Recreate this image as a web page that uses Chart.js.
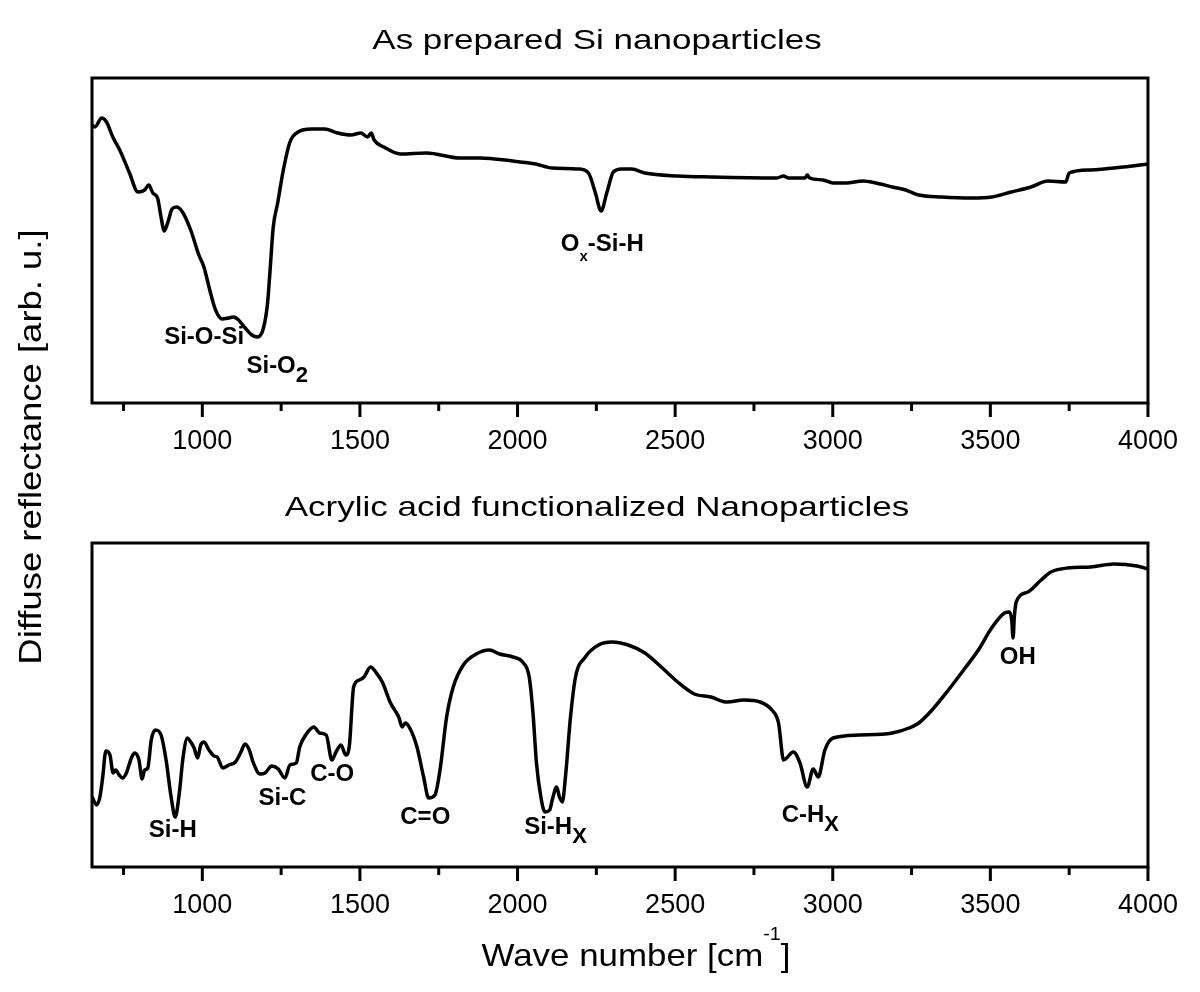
<!DOCTYPE html>
<html>
<head>
<meta charset="utf-8">
<script src="https://cdn.jsdelivr.net/npm/chart.js@4.4.1/dist/chart.umd.min.js"></script>
<style>
  body { margin: 0; background: #fff; }
  canvas { position: absolute; left: 0; top: 0; }
</style>
</head>
<body>
<canvas id="topPanel" width="1200" height="992"></canvas>
<canvas id="bottomPanel" width="1200" height="992"></canvas>
<script>
/*--------------------DATA--------------------*/
// wave numbers [cm-1] and reflectance (arb. u.)
const topWave = [650, 659, 681, 696, 716, 738, 769, 796, 817, 830, 843, 858, 869, 879, 890, 904, 918, 937, 963, 989,
    1005, 1026, 1042, 1063, 1084, 1099, 1115, 1136, 1157, 1175, 1194, 1207, 1215, 1225, 1239, 1257, 1278, 1304, 1346, 1388,
    1429, 1471, 1503, 1524, 1536, 1545, 1576, 1628, 1712, 1817, 1880, 1985, 2058, 2110, 2194, 2225, 2247, 2265, 2283, 2304,
    2330, 2362, 2404, 2508, 2613, 2822, 2844, 2859, 2912, 2919, 2927, 2969, 3001, 3043, 3095, 3137, 3189, 3231, 3273, 3346,
    3441, 3504, 3566, 3629, 3682, 3739, 3750, 3818, 3922, 4000];
const topSignal = [278, 276, 285, 281, 266, 253, 230, 211, 213, 218, 210, 205, 186, 172, 180, 194, 196, 191, 173, 148,
    136, 110, 93, 84, 85, 86, 83, 75, 68, 66, 75, 100, 133, 176, 200, 233, 261, 271, 274, 274,
    270, 268, 270, 266, 270, 263, 256, 249, 250, 245, 245, 242, 239, 235, 234, 230, 210, 192, 210, 231,
    234, 234, 230, 227, 226, 225, 227, 225, 225, 228, 225, 223, 220, 220, 222, 220, 216, 213, 208, 206,
    205, 206, 211, 216, 222, 221, 230, 233, 236, 239];

const bottomWave = [650, 665, 675, 684, 694, 707, 717, 725, 736, 747, 759, 775, 785, 799, 809, 817, 827, 838, 851, 869,
    885, 901, 914, 927, 939, 953, 963, 974, 985, 995, 1005, 1021, 1037, 1047, 1065, 1084, 1105, 1121, 1136, 1149,
    1162, 1183, 1199, 1220, 1241, 1262, 1278, 1298, 1309, 1330, 1354, 1372, 1393, 1411, 1424, 1440, 1455, 1466, 1480, 1498,
    1513, 1534, 1550, 1571, 1597, 1623, 1634, 1644, 1658, 1681, 1702, 1718, 1738, 1754, 1775, 1796, 1828, 1869, 1911, 1943,
    1985, 2016, 2037, 2049, 2060, 2074, 2087, 2102, 2110, 2124, 2133, 2142, 2152, 2168, 2184, 2215, 2257, 2299, 2351, 2404,
    2456, 2508, 2561, 2613, 2665, 2718, 2770, 2807, 2828, 2844, 2875, 2896, 2919, 2938, 2954, 2975, 3001, 3085, 3189, 3242,
    3273, 3315, 3367, 3420, 3462, 3504, 3545, 3561, 3568, 3572, 3576, 3582, 3619, 3661, 3692, 3745, 3818, 3891, 3965, 4000];
const bottomSignal = [70, 62, 70, 90, 116, 112, 94, 97, 92, 89, 94, 109, 114, 107, 88, 97, 99, 127, 137, 132,
    107, 70, 50, 74, 110, 129, 125, 119, 109, 122, 125, 117, 111, 110, 99, 102, 105, 114, 123, 117,
    104, 93, 94, 101, 98, 89, 102, 104, 120, 133, 140, 134, 132, 107, 115, 122, 112, 120, 180, 187,
    190, 200, 195, 185, 164, 150, 140, 144, 139, 120, 90, 69, 72, 97, 150, 180, 202, 213, 217, 213,
    210, 205, 190, 154, 104, 70, 55, 57, 67, 80, 70, 65, 90, 150, 190, 210, 222, 225, 222, 214,
    200, 185, 173, 170, 165, 167, 165, 157, 144, 107, 115, 104, 80, 98, 90, 117, 129, 132, 134, 139,
    144, 157, 177, 199, 217, 239, 254, 255, 246, 229, 250, 265, 275, 287, 295, 299, 300, 303, 301, 298];

const majorTicks = [1000, 1500, 2000, 2500, 3000, 3500, 4000];
const minorTicks = [750, 1250, 1750, 2250, 2750, 3250, 3750];

// band assignments: anchor (wave number, level) of the label's left baseline
const topNotes = [
    { wave: 879, level: 59, parts: [['Si-O-Si', 'main']] },
    { wave: 1140, level: 30, parts: [['Si-O', 'main'], ['2', 'sub']] },
    { wave: 2137, level: 152, parts: [['O', 'main'], ['x', 'tiny'], ['-Si-H', 'main']] }
];
const bottomNotes = [
    { wave: 830, level: 30, parts: [['Si-H', 'main']] },
    { wave: 1178, level: 62, parts: [['Si-C', 'main']] },
    { wave: 1342, level: 86, parts: [['C-O', 'main']] },
    { wave: 1628, level: 43, parts: [['C=O', 'main']] },
    { wave: 2021, level: 33, parts: [['Si-H', 'main'], ['X', 'sub']] },
    { wave: 2838, level: 45, parts: [['C-H', 'main'], ['X', 'sub']] },
    { wave: 3530, level: 203, parts: [['OH', 'main']] }
];

/*--------------------DRAWING--------------------*/
const FAMILY = '"Liberation Sans", Arial, sans-serif';
const noteStyles = {
    main: { size: 24, drop: 0 },
    sub: { size: 22, drop: 9 },
    tiny: { size: 15, drop: 10 }
};

function stretchText(ctx, text, x, y, sx) {
    ctx.save();
    ctx.translate(x, y);
    ctx.scale(sx, 1);
    ctx.textAlign = 'center';
    ctx.textBaseline = 'alphabetic';
    ctx.fillText(text, 0, 0);
    ctx.restore();
}

function drawNote(ctx, x0, y0, parts) {
    let cx = x0;
    ctx.textAlign = 'left';
    ctx.textBaseline = 'alphabetic';
    for (const [str, kind] of parts) {
        const st = noteStyles[kind];
        ctx.font = `bold ${st.size}px ${FAMILY}`;
        ctx.fillText(str, cx, y0 + st.drop);
        cx += ctx.measureText(str).width;
    }
}

function drawWaveTitle(ctx, cx, base) {
    // "Wave number [cm-1]" with raised exponent, slightly widened
    const sx = 1.09;
    const pieces = [['Wave number [cm', 32, 0], ['-1', 18, -26], [']', 32, 0]];
    let total = 0;
    for (const [s, size] of pieces) {
        ctx.font = `${size}px ${FAMILY}`;
        total += ctx.measureText(s).width;
    }
    ctx.save();
    ctx.translate(cx - total * sx / 2, base);
    ctx.scale(sx, 1);
    ctx.textAlign = 'left';
    ctx.textBaseline = 'alphabetic';
    let x = 0;
    for (const [s, size, rise] of pieces) {
        ctx.font = `${size}px ${FAMILY}`;
        ctx.fillText(s, x, rise);
        x += ctx.measureText(s).width;
    }
    ctx.restore();
}

const panelDecor = {
    id: 'panelDecor',
    afterDatasetsDraw(chart, args, opts) {
        const { ctx, chartArea: a, scales: { x, y } } = chart;
        ctx.save();
        ctx.strokeStyle = '#000';
        ctx.fillStyle = '#000';
        ctx.lineWidth = 3;
        ctx.strokeRect(a.left, a.top, a.right - a.left, a.bottom - a.top);

        ctx.beginPath();
        for (const v of majorTicks) {
            const px = x.getPixelForValue(v);
            ctx.moveTo(px, a.bottom);
            ctx.lineTo(px, a.bottom + 14);
        }
        for (const v of minorTicks) {
            const px = x.getPixelForValue(v);
            ctx.moveTo(px, a.bottom);
            ctx.lineTo(px, a.bottom + 8);
        }
        ctx.stroke();

        for (const n of opts.notes) {
            drawNote(ctx, x.getPixelForValue(n.wave), y.getPixelForValue(n.level), n.parts);
        }

        ctx.font = `28px ${FAMILY}`;
        stretchText(ctx, opts.title, opts.titleX, a.top - opts.titleGap, 1.25);

        if (opts.yTitle) {
            ctx.save();
            ctx.translate(41, 447);
            ctx.rotate(-Math.PI / 2);
            ctx.font = `32px ${FAMILY}`;
            stretchText(ctx, opts.yTitle, 0, 0, 1.14);
            ctx.restore();
        }
        if (opts.xTitle) {
            drawWaveTitle(ctx, 636, 966);
        }
        ctx.restore();
    }
};

function makePanel(canvasId, waves, signal, yMax, padding, decor) {
    return new Chart(document.getElementById(canvasId), {
        type: 'line',
        data: {
            datasets: [
                {
                    data: waves.map((w, i) => ({ x: w, y: signal[i] })),
                    borderColor: '#000',
                    borderWidth: 3.5,
                    pointRadius: 0,
                    cubicInterpolationMode: 'monotone',
                    fill: false
                }
            ]
        },
        options: {
            responsive: false,
            animation: false,
            devicePixelRatio: 1,
            layout: { padding: padding },
            plugins: {
                legend: { display: false },
                tooltip: { enabled: false },
                panelDecor: decor
            },
            scales: {
                x: {
                    type: 'linear',
                    min: 650,
                    max: 4000,
                    grid: { display: false, drawTicks: false },
                    border: { display: false },
                    afterBuildTicks: (axis) => { axis.ticks = majorTicks.map((v) => ({ value: v })); },
                    afterFit: (axis) => { axis.height = 50; },
                    ticks: {
                        autoSkip: false,
                        maxRotation: 0,
                        padding: 22,
                        color: '#000',
                        font: { family: FAMILY, size: 27 },
                        callback: (v) => String(v)
                    }
                },
                y: {
                    display: false,
                    min: 0,
                    max: yMax
                }
            }
        },
        plugins: [panelDecor]
    });
}

let topChart = makePanel('topPanel', topWave, topSignal, 325,
    { top: 78, left: 92, right: 42, bottom: 539 },
    { notes: topNotes, title: 'As prepared Si nanoparticles', titleX: 597, titleGap: 29,
      yTitle: 'Diffuse reflectance [arb. u.]' });

let bottomChart = makePanel('bottomPanel', bottomWave, bottomSignal, 324,
    { top: 543, left: 92, right: 42, bottom: 75 },
    { notes: bottomNotes, title: 'Acrylic acid functionalized Nanoparticles', titleX: 597, titleGap: 27,
      xTitle: true });
</script>
</body>
</html>
